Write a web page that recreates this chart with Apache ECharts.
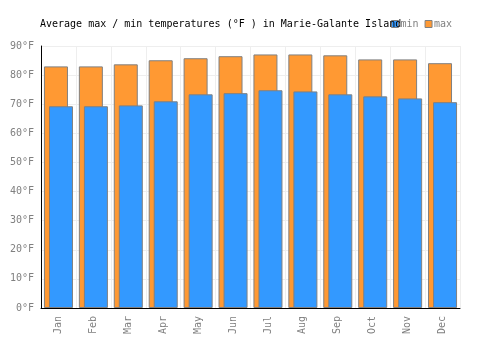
<!DOCTYPE html>
<html>
<head>
<meta charset="utf-8">
<script src="https://cdn.jsdelivr.net/npm/echarts@6/dist/echarts.min.js"></script>
<style>
  html, body { margin: 0; padding: 0; background: #fff; }
  #chart { width: 500px; height: 350px; }
</style>
</head>
<body>
<div id="chart"></div>
<script>
const months = ["Jan", "Feb", "Mar", "Apr", "May", "Jun", "Jul", "Aug", "Sep", "Oct", "Nov", "Dec"];
const maxTemps = [83.0, 83.0, 83.7, 85.1, 85.8, 86.5, 87.1, 87.1, 86.8, 85.4, 85.4, 84.1];
const minTemps = [69.3, 69.3, 69.6, 71.0, 73.4, 73.8, 74.8, 74.4, 73.4, 72.7, 72.0, 70.7];

const font = "DejaVu Sans Mono";
const chart = echarts.init(document.getElementById("chart"));
chart.setOption({
    animation: false,
    title: {
        text: "Average max / min temperatures (°F ) in Marie-Galante Island",
        left: 40,
        top: 19,
        padding: 0,
        textStyle: { fontFamily: font, fontSize: 10, fontWeight: "normal", color: "#000" }
    },
    legend: {
        data: ["min", "max"],
        left: 391,
        top: 19,
        padding: 0,
        itemWidth: 7,
        itemHeight: 7,
        itemGap: 6,
        icon: "rect",
        textStyle: { fontFamily: font, fontSize: 10, color: "#808080", padding: [0, 0, 0, -3] },
        itemStyle: { borderColor: "#808080", borderWidth: 1 }
    },
    grid: { left: 41, right: 40, top: 46, bottom: 42 },
    xAxis: {
        type: "category",
        data: months,
        axisLine: { lineStyle: { color: "#000", width: 1 } },
        axisTick: { show: false },
        splitLine: { show: true, interval: 0, lineStyle: { color: "#eeeeee" } },
        axisLabel: { rotate: 90, interval: 0, fontFamily: font, fontSize: 10, color: "#808080", margin: 8 }
    },
    yAxis: {
        type: "value",
        min: 0,
        max: 90,
        interval: 10,
        axisLine: { show: true, lineStyle: { color: "#000", width: 1 } },
        axisTick: { show: false },
        splitLine: { lineStyle: { color: "#eeeeee" } },
        axisLabel: { formatter: "{value}°F", fontFamily: font, fontSize: 10, color: "#808080", margin: 7 }
    },
    series: [
        {
            name: "max",
            type: "bar",
            data: maxTemps,
            barWidth: 24,
            barGap: "-79%",
            itemStyle: { color: "#ff9933", borderColor: "#808080", borderWidth: 1 }
        },
        {
            name: "min",
            type: "bar",
            data: minTemps,
            barWidth: 24,
            barGap: "-79%",
            itemStyle: { color: "#3399ff", borderColor: "#808080", borderWidth: 1 }
        }
    ]
});
</script>
</body>
</html>
